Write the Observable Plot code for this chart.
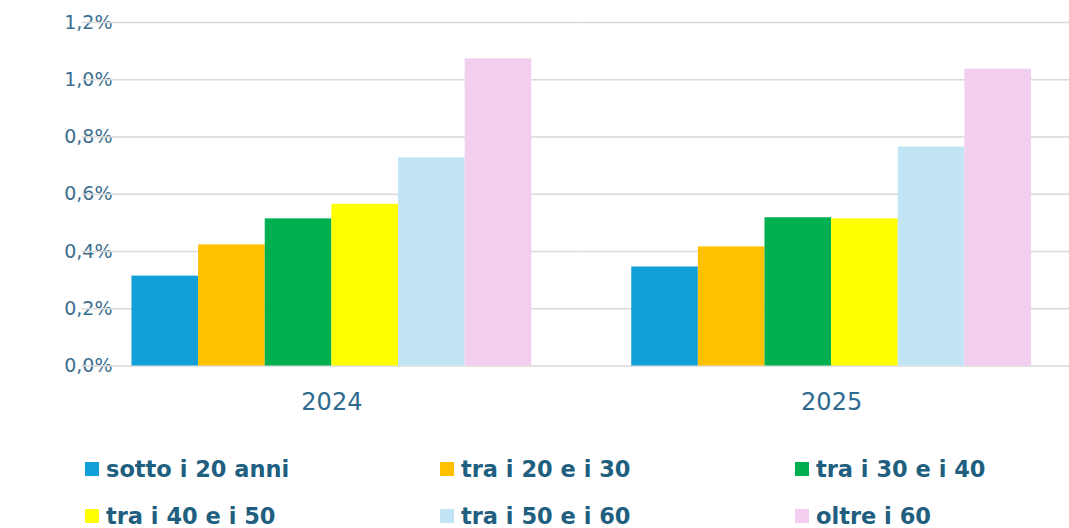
<!DOCTYPE html>
<html>
<head>
<meta charset="utf-8">
<script src="https://cdn.jsdelivr.net/npm/d3@7"></script>
<script src="https://cdn.jsdelivr.net/npm/@observablehq/plot@0.6"></script>
<style>
html, body { margin: 0; padding: 0; background: #fff; overflow: hidden; width: 1069px; height: 528px; }
#chart { width: 1069px; height: 425px; overflow: hidden; }
#chart svg { display: block; max-width: none !important; }
#legend {
  margin-top: 20.5px;
  padding-left: 85px;
  display: grid;
  grid-template-columns: 355px 355px 355px;
  grid-auto-rows: 47px;
  font-family: "DejaVu Sans", sans-serif;
  font-weight: bold;
  font-size: 22.5px;
  color: #215f80;
  white-space: nowrap;
}
.item { display: flex; align-items: center; }
.sw { width: 14px; height: 14px; margin-right: 7px; flex: none; }
</style>
</head>
<body>
<div id="chart"></div>
<div id="legend"></div>
<script>
const years = ["2024", "2025"];
const categories = ["sotto i 20 anni", "tra i 20 e i 30", "tra i 30 e i 40", "tra i 40 e i 50", "tra i 50 e i 60", "oltre i 60"];
const values2024 = [0.314, 0.423, 0.514, 0.565, 0.727, 1.073];
const values2025 = [0.346, 0.416, 0.518, 0.514, 0.765, 1.037];
const colors = ["#109fd7", "#ffc000", "#00b050", "#ffff00", "#c2e5f5", "#f2cfee"];
const yTicks = [0, 0.2, 0.4, 0.6, 0.8, 1.0, 1.2];

const seriesByYear = {"2024": values2024, "2025": values2025};
const data = years.flatMap(y => categories.map((c, i) => ({year: y, cat: c, value: seriesByYear[y][i]})));

const fmt = d => d.toFixed(1).replace(".", ",") + "%";

const chart = Plot.plot({
  width: 1081,
  height: 425,
  marginLeft: 81.5,
  marginRight: 0,
  marginTop: 22,
  marginBottom: 59.5,
  style: {background: "#fff", maxWidth: "none"},
  fx: {domain: years, paddingInner: 0.2, paddingOuter: 0.1, round: false, axis: "bottom", label: null, tickSize: 0, tickPadding: 27, fontSize: 24},
  x: {domain: categories, padding: 0, round: false, axis: null},
  y: {domain: [0, 1.2], ticks: yTicks, tickFormat: fmt, label: null, tickSize: 0, tickPadding: 19.5, fontSize: 19},
  color: {domain: categories, range: colors},
  marks: [
    Plot.ruleY(yTicks, {stroke: "#d9d9d9", strokeWidth: 1.5, insetLeft: -50, insetRight: -50}),
    Plot.barY(data, {fx: "year", x: "cat", y: "value", fill: "cat", insetLeft: 0, insetRight: 0})
  ]
});

chart.style.fontFamily = "'DejaVu Sans', sans-serif";
chart.style.maxWidth = "none";
chart.querySelectorAll("[aria-label='y-axis tick label']").forEach(n => { n.setAttribute("fill", "#3b6e8f"); n.setAttribute("font-size", 19); });
chart.querySelectorAll("[aria-label='fx-axis tick label']").forEach(n => { n.setAttribute("fill", "#2e6a8e"); n.setAttribute("font-size", 24); });
document.getElementById("chart").appendChild(chart);

const legend = document.getElementById("legend");
categories.forEach((c, i) => {
  const item = document.createElement("div");
  item.className = "item";
  const sw = document.createElement("span");
  sw.className = "sw";
  sw.style.background = colors[i];
  const t = document.createElement("span");
  t.textContent = c;
  item.appendChild(sw);
  item.appendChild(t);
  legend.appendChild(item);
});
</script>
</body>
</html>
